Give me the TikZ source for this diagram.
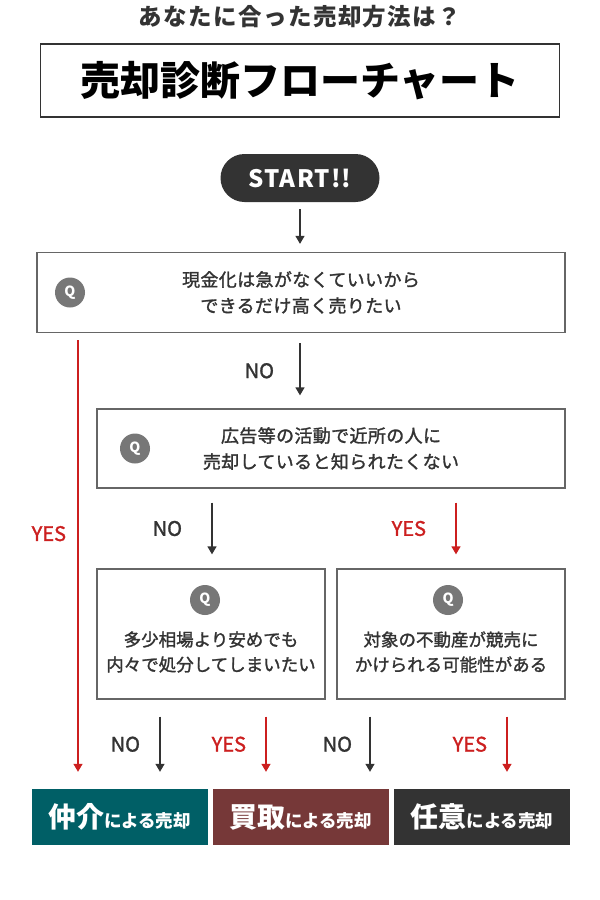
\documentclass[tikz,border=0pt]{standalone}
\usepackage{fontspec}
\setmainfont{Noto Sans CJK JP}
\newfontfamily\medfont{Noto Sans CJK JP}[FakeBold=1.5]
\newfontfamily\qfont{Noto Sans CJK JP}[FakeBold=1.5, LetterSpace=2]
\usetikzlibrary{positioning, arrows.meta}
\definecolor{darkbox}{HTML}{333333}
\definecolor{yesred}{HTML}{CC1F1F}
\definecolor{tealbox}{HTML}{005F66}
\definecolor{brownbox}{HTML}{763838}
\definecolor{qgray}{HTML}{777777}
\definecolor{linegray}{HTML}{666666}
\tikzstyle{titlebox} = [rectangle, draw=darkbox, line width=1.2pt, minimum width=519pt, minimum height=73pt, text=black, font=\bfseries\fontsize{40}{44}\selectfont]
\tikzstyle{startbox} = [rectangle, rounded corners=24pt, fill=darkbox, minimum width=159pt, minimum height=48pt, text=white, font=\bfseries\fontsize{24}{28}\selectfont\addfontfeatures{LetterSpace=5}]
\tikzstyle{question} = [rectangle, draw=linegray, line width=1.3pt, align=center, text=darkbox, font=\qfont\fontsize{18}{26}\selectfont]
\tikzstyle{qtext} = [align=center, text=darkbox, font=\medfont\fontsize{17.5}{25}\selectfont]
\tikzstyle{qmark} = [circle, fill=qgray, minimum size=30pt, inner sep=0pt, text=white, font=\bfseries\fontsize{14}{14}\selectfont]
\tikzstyle{result} = [rectangle, minimum width=176pt, minimum height=56pt, text=white, font=\bfseries\fontsize{17.5}{20}\selectfont]
\tikzstyle{noarrow} = [line width=1.3pt, draw=darkbox, -{Triangle[width=9pt,length=8pt]}]
\tikzstyle{yesarrow} = [line width=1.3pt, draw=yesred, -{Triangle[width=9pt,length=8pt]}]
\tikzstyle{nolabel} = [anchor=east, text=darkbox, font=\medfont\fontsize{20}{20}\selectfont]
\tikzstyle{yeslabel} = [anchor=east, text=yesred, font=\medfont\fontsize{20}{20}\selectfont]
\begin{document}
\begin{tikzpicture}[x=1pt, y=1pt, node distance=100pt]
        \fill [white] (0,0) rectangle (600,-900);
        \useasboundingbox (0,0) rectangle (600,-900);

        \node (heading) at (300,-17) [text=darkbox, font=\bfseries\fontsize{23.5}{24}\selectfont\addfontfeatures{LetterSpace=6}] {あなたに合った売却方法は？};
        \node (chart) [titlebox, below of=heading, node distance=63.5pt] {売却診断フローチャート};
        \node (start) [startbox, below of=chart, node distance=97.5pt] {START!!};

        % questions
        \node (q1) [question, minimum width=528pt, minimum height=80pt, below of=start, node distance=114.5pt, xshift=1pt] {現金化は急がなくていいから\\できるだけ高く売りたい};
        \node (q1mark) [qmark, left of=q1, node distance=231pt] {Q};
        \node (q2) [question, minimum width=468pt, minimum height=79pt, below of=q1, node distance=156pt, xshift=30pt] {広告等の活動で近所の人に\\売却していると知られたくない};
        \node (q2mark) [qmark, left of=q2, node distance=196pt] {Q};
        \node (q3) [question, minimum width=228pt, minimum height=130pt, below of=q2, node distance=185.5pt, xshift=-120pt] {};
        \node (q3mark) [qmark, above of=q3, node distance=34pt, xshift=-6pt] {Q};
        \node (q3text) [qtext, below of=q3, node distance=18pt] {多少相場より安めでも\\内々で処分してしまいたい};
        \node (q4) [question, minimum width=228pt, minimum height=130pt, right of=q3, node distance=240pt] {};
        \node (q4mark) [qmark, above of=q4, node distance=34pt, xshift=-3pt] {Q};
        \node (q4text) [qtext, below of=q4, node distance=18pt] {対象の不動産が競売に\\かけられる可能性がある};

        % results
        \node (res1) [result, fill=tealbox, below of=q3, node distance=183pt, xshift=-91.5pt] {{\fontsize{28}{30}\selectfont 仲介}による売却};
        \node (res2) [result, fill=brownbox, right of=res1, node distance=181pt] {{\fontsize{28}{30}\selectfont 買取}による売却};
        \node (res3) [result, fill=darkbox, right of=res2, node distance=181.5pt] {{\fontsize{28}{30}\selectfont 任意}による売却};

        \coordinate (yesline) at (78,0);

        \draw [noarrow, shorten <=7pt, shorten >=8pt] (start.south) -- (q1.north -| start);
        \draw [noarrow, shorten <=10pt, shorten >=13pt] (q1.south -| start) -- node[nolabel, xshift=-22pt]{NO} (q2.north -| start);
        \draw [yesarrow, shorten <=7pt, shorten >=17pt] (q1.south -| yesline) -- node[yeslabel, pos=0.44, xshift=-8pt]{YES} (res1.north -| yesline);
        \draw [noarrow, shorten <=14pt, shorten >=14pt] ([xshift=1pt]q3.north |- q2.south) -- node[nolabel, xshift=-26pt]{NO} ([xshift=1pt]q3.north);
        \draw [yesarrow, shorten <=14pt, shorten >=14pt] ([xshift=5pt]q4.north |- q2.south) -- node[yeslabel, xshift=-26pt]{YES} ([xshift=5pt]q4.north);
        \draw [noarrow, shorten <=17pt, shorten >=17pt] ([xshift=-51pt]q3.south) -- node[nolabel, xshift=-16pt]{NO} ([xshift=-51pt]q3.south |- res1.north);
        \draw [yesarrow, shorten <=17pt, shorten >=17pt] ([xshift=55pt]q3.south) -- node[yeslabel, xshift=-16pt]{YES} ([xshift=55pt]q3.south |- res2.north);
        \draw [noarrow, shorten <=17pt, shorten >=17pt] ([xshift=-81pt]q4.south) -- node[nolabel, xshift=-14pt]{NO} ([xshift=-81pt]q4.south |- res2.north);
        \draw [yesarrow, shorten <=17pt, shorten >=17pt] ([xshift=56pt]q4.south) -- node[yeslabel, xshift=-16pt]{YES} ([xshift=56pt]q4.south |- res3.north);
\end{tikzpicture}
\end{document}
